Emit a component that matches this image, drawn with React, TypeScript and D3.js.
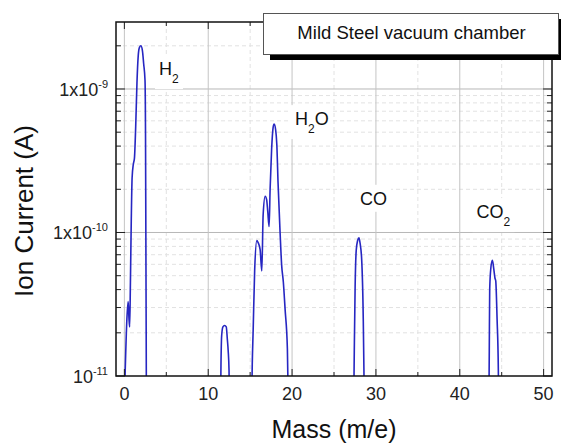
import React, { useEffect, useRef } from "react";
import * as d3 from "d3";

// peaks: [mass, ion current]
const h2Peak: [number, number][] = [
  [-0.05, 5e-12], [0.1, 1.1e-11], [0.3, 2.5e-11], [0.45, 3.3e-11], [0.55, 2.5e-11],
  [0.63, 2.2e-11], [0.72, 4.5e-11], [0.82, 1.2e-10], [0.92, 2.4e-10], [1.07, 3.0e-10],
  [1.2, 3.3e-10], [1.35, 5.5e-10], [1.5, 1.1e-9], [1.65, 1.7e-9], [1.8, 1.95e-9],
  [1.97, 2.0e-9], [2.15, 1.85e-9], [2.3, 1.5e-9], [2.46, 1.15e-9], [2.52, 5e-10],
  [2.56, 1e-10], [2.6, 2e-11], [2.63, 5e-12],
];
const cPeak: [number, number][] = [
  [11.45, 5e-12], [11.52, 1.2e-11], [11.6, 1.9e-11], [11.75, 2.2e-11], [11.95, 2.25e-11],
  [12.15, 2.2e-11], [12.28, 1.8e-11], [12.38, 1.5e-11], [12.48, 1.1e-11], [12.55, 5e-12],
];
const h2oPeak: [number, number][] = [
  [15.15, 5e-12], [15.25, 1.2e-11], [15.36, 2.1e-11], [15.54, 5.5e-11], [15.8, 8.8e-11],
  [15.95, 8.5e-11], [16.19, 7.6e-11], [16.39, 5.4e-11], [16.55, 1.33e-10], [16.79, 1.79e-10],
  [16.96, 1.7e-10], [17.1, 1.4e-10], [17.26, 1.1e-10], [17.38, 2.0e-10], [17.56, 3.8e-10],
  [17.74, 5.4e-10], [17.86, 5.7e-10], [18.04, 5.2e-10], [18.18, 4.1e-10], [18.33, 2.2e-10],
  [18.57, 1e-10], [18.75, 6e-11], [18.96, 4.5e-11], [19.17, 2.9e-11], [19.44, 1.55e-11],
  [19.58, 5e-12],
];
const coPeak: [number, number][] = [
  [27.33, 5e-12], [27.42, 1.5e-11], [27.52, 4.2e-11], [27.65, 7.5e-11], [27.82, 8.8e-11],
  [27.98, 9.2e-11], [28.1, 8.5e-11], [28.3, 6.5e-11], [28.49, 2.5e-11], [28.57, 1.1e-11],
  [28.62, 5e-12],
];
const co2Peak: [number, number][] = [
  [43.46, 5e-12], [43.52, 1.5e-11], [43.57, 4e-11], [43.7, 5.6e-11], [43.89, 6.4e-11],
  [44.05, 5.6e-11], [44.2, 4.8e-11], [44.29, 4.6e-11], [44.45, 2.5e-11], [44.6, 1.1e-11],
  [44.66, 5e-12],
];

const xTicks = [0, 10, 20, 30, 40, 50];
const xMinorTicks = [5, 15, 25, 35, 45];
const yTicks = [1e-9, 1e-10, 1e-11];
const yTickBase = ["1x10", "1x10", "10"];
const yTickExp = ["-9", "-10", "-11"];

// label text, subscript, rest; mass and current at the label's start / baseline
const peakLabels = [
  { main: "H", sub: "2", rest: "", x: 4.13, y: 1.25e-9 },
  { main: "H", sub: "2", rest: "O", x: 20.35, y: 5.6e-10 },
  { main: "CO", sub: "", rest: "", x: 28.1, y: 1.56e-10 },
  { main: "CO", sub: "2", rest: "", x: 42.0, y: 1.26e-10 },
];

const title = "Mild Steel vacuum chamber";

const W = 561, H = 447;
const margin = { top: 22, right: 9, bottom: 71, left: 116 };
const font = "'Liberation Sans', Arial, sans-serif";

export default function App() {
  const ref = useRef<SVGSVGElement>(null);

  useEffect(() => {
    const svg = d3.select(ref.current);
    svg.selectAll("*").remove();
    const w = W - margin.left - margin.right;
    const h = H - margin.top - margin.bottom;

    const x = d3.scaleLinear().domain([-1, 51]).range([0, w]);
    const y = d3.scaleLog().domain([1e-11, 2.93e-9]).range([h, 0]);

    const g = svg.append("g")
      .attr("transform", "translate(" + margin.left + "," + margin.top + ")");

    svg.append("defs").append("clipPath").attr("id", "plotclip")
      .append("rect").attr("width", w).attr("height", h);

    // minor grid
    const yMinor: number[] = [];
    [1e-11, 1e-10, 1e-9].forEach(d => {
      for (let k = 2; k <= 9; k++) if (d * k <= 2.93e-9) yMinor.push(d * k);
    });
    g.selectAll(".ymg").data(yMinor).enter().append("line")
      .attr("x1", 0).attr("x2", w)
      .attr("y1", d => y(d)).attr("y2", d => y(d))
      .attr("stroke", "#e2e2e2").attr("stroke-dasharray", "4,3");
    g.selectAll(".xmg").data(xMinorTicks).enter().append("line")
      .attr("y1", 0).attr("y2", h)
      .attr("x1", d => x(d)).attr("x2", d => x(d))
      .attr("stroke", "#e2e2e2").attr("stroke-dasharray", "4,3");

    // major grid
    g.selectAll(".yg").data([1e-9, 1e-10]).enter().append("line")
      .attr("x1", 0).attr("x2", w)
      .attr("y1", d => y(d)).attr("y2", d => y(d))
      .attr("stroke", "#b8b8b8");
    g.selectAll(".xg").data(xTicks).enter().append("line")
      .attr("y1", 0).attr("y2", h)
      .attr("x1", d => x(d)).attr("x2", d => x(d))
      .attr("stroke", "#c4c4c4");

    // peaks
    const line = d3.line<[number, number]>()
      .x(d => x(d[0]))
      .y(d => y(d[1]))
      .curve(d3.curveMonotoneX);
    const lines = g.append("g").attr("clip-path", "url(#plotclip)");
    [h2Peak, cPeak, h2oPeak, coPeak, co2Peak].forEach(p => {
      lines.append("path")
        .datum(p)
        .attr("fill", "none")
        .attr("stroke", "#2626c2")
        .attr("stroke-width", 1.6)
        .attr("d", line);
    });

    // peak labels with white boxes
    peakLabels.forEach(l => {
      const t = g.append("text")
        .attr("x", x(l.x)).attr("y", y(l.y))
        .attr("font-family", font).attr("font-size", 18).attr("fill", "#111");
      t.append("tspan").text(l.main);
      if (l.sub) t.append("tspan").attr("font-size", 12).attr("dy", 8).text(l.sub);
      if (l.rest) t.append("tspan").attr("dy", -8).text(l.rest);
      const bb = (t.node() as SVGTextElement).getBBox();
      g.insert("rect", () => t.node())
        .attr("x", bb.x - 4).attr("y", bb.y - 4)
        .attr("width", bb.width + 8).attr("height", bb.height + 7)
        .attr("fill", "white");
    });

    // ticks (inward), all four sides
    const yMajorLen = 9, yMinorLen = 5, xMajorLen = 7, xMinorLen = 4;
    const tickG = g.append("g").attr("stroke", "#222").attr("stroke-width", 1);
    yTicks.forEach(d => {
      tickG.append("line").attr("x1", 0).attr("x2", yMajorLen).attr("y1", y(d)).attr("y2", y(d));
      tickG.append("line").attr("x1", w).attr("x2", w - yMajorLen).attr("y1", y(d)).attr("y2", y(d));
    });
    yMinor.forEach(d => {
      tickG.append("line").attr("x1", 0).attr("x2", yMinorLen).attr("y1", y(d)).attr("y2", y(d));
      tickG.append("line").attr("x1", w).attr("x2", w - yMinorLen).attr("y1", y(d)).attr("y2", y(d));
    });
    xTicks.forEach(d => {
      tickG.append("line").attr("x1", x(d)).attr("x2", x(d)).attr("y1", h).attr("y2", h - xMajorLen);
      tickG.append("line").attr("x1", x(d)).attr("x2", x(d)).attr("y1", 0).attr("y2", xMajorLen);
    });
    xMinorTicks.forEach(d => {
      tickG.append("line").attr("x1", x(d)).attr("x2", x(d)).attr("y1", h).attr("y2", h - xMinorLen);
      tickG.append("line").attr("x1", x(d)).attr("x2", x(d)).attr("y1", 0).attr("y2", xMinorLen);
    });

    // frame
    g.append("rect").attr("width", w).attr("height", h)
      .attr("fill", "none").attr("stroke", "#111").attr("stroke-width", 1.5);

    // x tick labels
    g.selectAll(".xl").data(xTicks).enter().append("text")
      .attr("x", d => x(d)).attr("y", h + 24)
      .attr("text-anchor", "middle")
      .attr("font-family", font).attr("font-size", 18).attr("fill", "#222")
      .text(d => d);

    // y tick labels
    yTicks.forEach((d, i) => {
      const t = g.append("text")
        .attr("x", -8).attr("y", y(d) + 7)
        .attr("text-anchor", "end")
        .attr("font-family", font).attr("font-size", 18).attr("fill", "#222");
      t.append("tspan").text(yTickBase[i]);
      t.append("tspan").attr("dy", -8).attr("font-size", 11).text(yTickExp[i]);
    });

    // axis titles
    svg.append("text")
      .attr("x", 334).attr("y", 438)
      .attr("text-anchor", "middle")
      .attr("font-family", font).attr("font-size", 25).attr("fill", "#111")
      .text("Mass (m/e)");
    svg.append("text")
      .attr("transform", "translate(33,211) rotate(-90)")
      .attr("text-anchor", "middle")
      .attr("font-family", font).attr("font-size", 26).attr("fill", "#111")
      .text("Ion Current (A)");

    // legend box with shadow
    svg.append("rect").attr("x", 270).attr("y", 19).attr("width", 296).attr("height", 41)
      .attr("fill", "#000");
    svg.append("rect").attr("x", 263.5).attr("y", 13.5).attr("width", 295).attr("height", 41)
      .attr("fill", "white").attr("stroke", "#555").attr("stroke-width", 1);
    svg.append("text")
      .attr("x", 411.5).attr("y", 38.5)
      .attr("text-anchor", "middle")
      .attr("font-family", font).attr("font-size", 18.5).attr("fill", "#111")
      .text(title);
  }, []);

  return (
    <div>
      <svg ref={ref} width={W} height={H}
        style={{ position: "absolute", left: 0, top: 0, background: "white" }} />
    </div>
  );
}
